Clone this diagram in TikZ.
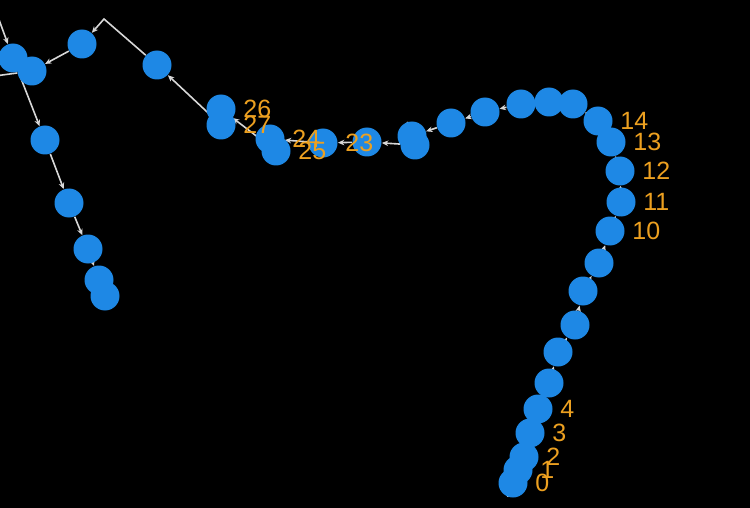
\documentclass[tikz,border=0pt]{standalone}
\usepackage{fontspec}
\setmainfont{Liberation Sans}
\usetikzlibrary{arrows.meta}
\usetikzlibrary{backgrounds}
\usepackage{xcolor}
\definecolor{spotblue}{RGB}{30,136,229}
\definecolor{tagorange}{RGB}{236,160,32}
\definecolor{linkgray}{RGB}{215,215,215}

\begin{document}
\begin{tikzpicture}[x=0.5pt,y=-0.5pt,
    spot/.style={circle, fill=spotblue, minimum size=14.5pt, inner sep=0pt},
    tag/.style={text=tagorange, font=\fontsize{12.5}{14}\selectfont, anchor=west, inner sep=0pt},
    link/.style={draw=linkgray, line width=0.8pt, -{Stealth[length=3.2pt,width=2.8pt]}}]
    \useasboundingbox (0,0) rectangle (750,508);

    % Trajectory points
    \foreach \i/\x/\y in {0/513/483, 1/518/470, 2/524/457, 3/530/433, 4/538/409,
        5/549/383, 6/558/352, 7/575/325, 8/583/291, 9/599/263,
        10/610/231, 11/621/202, 12/620/171, 13/611/142, 14/598/121,
        15/573/104, 16/549/102, 17/521/104, 18/485/112, 19/451/123,
        20/412/136, 21/415/145, 22/367/142, 23/323/143, 24/270/139,
        25/276/151, 26/221/109, 27/221/125, 28/157/65, 29/82/44,
        30/32/71, 31/13/58, 32/45/140, 33/69/203, 34/88/249,
        35/99/280, 36/105/296} {
        \node[spot] (n\i) at (\x,\y) {};
    }

    % Points outside the frame
    \coordinate (bend) at (104,19);
    \coordinate (exitL) at (-20,78);
    \coordinate (enterT) at (-10,-5);

    % Connections
    \begin{pgfonlayer}{background}
        \fill[black] (0,0) rectangle (750,508);
        \begin{scope}
            \clip (0,0) rectangle (750,508);
            \foreach \i in {0,...,27,29,31,32,33,34,35} {
                \pgfmathtruncatemacro{\j}{\i+1}
                \draw[link] (n\i) -- (n\j);
            }
            \draw[link] (n28) -- (bend) -- (n29);
            \draw[link] (n30) -- (exitL);
            \draw[link] (enterT) -- (n31);
        \end{scope}
    \end{pgfonlayer}

    % Labels
    \foreach \i in {0,1,2,3,4,10,11,12,13,14,23,24,25,26,27} {
        \node[tag] (l\i) at ([xshift=11pt]n\i.center) {\i};
    }
\end{tikzpicture}
\end{document}
